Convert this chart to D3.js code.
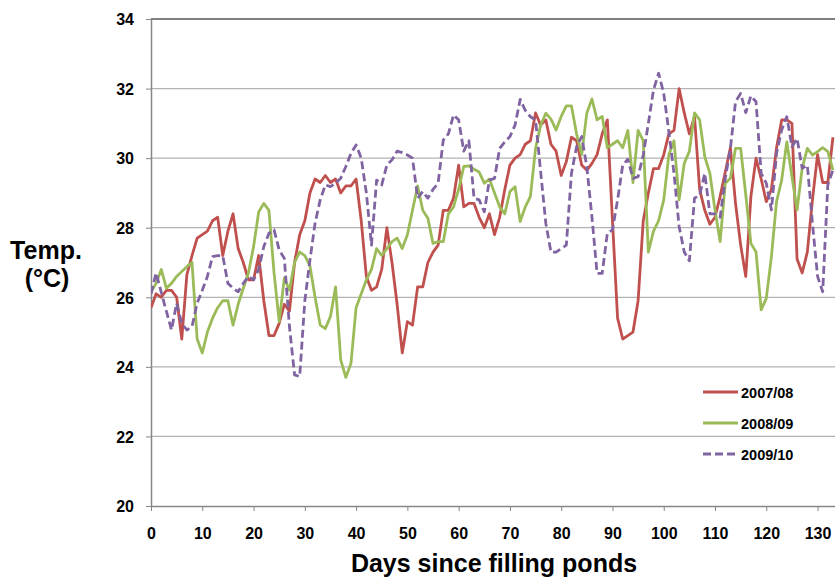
<!DOCTYPE html>
<html>
<head>
<meta charset="utf-8">
<script src="https://cdnjs.cloudflare.com/ajax/libs/d3/7.8.5/d3.min.js"></script>
<style>
  body { margin: 0; background: #fff; }
  text { font-family: "Liberation Sans", Arial, sans-serif; font-weight: bold; }
</style>
</head>
<body>
<div id="chart-container"></div>
<script>
// daily pond temperatures, day 0..133
var days = d3.range(0, 134);

var season0708 = [25.7,26.1,26.0,26.2,26.2,26.0,24.8,26.65,27.2,27.7,
  27.8,27.9,28.2,28.3,27.2,27.9,28.4,27.4,27.0,26.5,
  26.5,27.2,25.9,24.9,24.9,25.25,25.8,25.6,27.0,27.8,
  28.2,29.0,29.4,29.3,29.5,29.3,29.4,29.0,29.2,29.2,
  29.4,28.2,26.6,26.2,26.3,26.8,28.0,27.0,25.8,24.4,
  25.3,25.2,26.3,26.3,27.0,27.3,27.5,28.5,28.5,28.85,
  29.8,28.6,28.7,28.7,28.3,28.0,28.4,27.8,28.3,29.1,
  29.8,30.0,30.1,30.4,30.5,31.3,30.95,31.1,30.4,30.2,
  29.5,29.9,30.6,30.5,29.8,29.65,29.85,30.1,30.7,31.1,
  28.2,25.4,24.8,24.9,25.0,25.9,28.2,29.0,29.7,29.7,
  30.1,30.7,30.8,32.0,31.3,30.7,31.2,29.1,28.5,28.1,
  28.3,28.9,29.6,30.3,28.7,27.5,26.6,28.9,30.0,29.4,
  28.75,29.1,30.3,31.1,31.1,31.0,27.1,26.7,27.3,28.8,
  30.1,29.3,29.3,30.6];

var season0809 = [26.15,26.4,26.8,26.26,26.4,26.6,26.74,26.88,27.0,24.8,
  24.4,25.0,25.4,25.7,25.9,25.9,25.2,25.8,26.26,26.7,
  27.45,28.45,28.7,28.5,26.7,25.3,26.55,26.2,27.0,27.3,
  27.2,26.9,26.0,25.2,25.1,25.45,26.3,24.2,23.7,24.1,
  25.7,26.1,26.5,26.8,27.4,27.2,27.4,27.6,27.7,27.4,
  27.8,28.5,29.2,28.5,28.27,27.55,27.6,27.6,28.4,28.6,
  29.1,29.76,29.78,29.68,29.6,29.28,29.4,29.0,28.6,28.4,
  29.04,29.18,28.18,28.6,28.9,30.28,30.95,31.29,31.12,30.81,
  31.2,31.5,31.5,30.7,30.1,31.3,31.7,31.1,31.2,30.3,
  30.4,30.5,30.3,30.8,29.3,30.8,30.5,27.3,27.9,28.2,
  28.8,30.1,30.5,28.8,29.85,30.2,31.3,31.1,30.04,29.56,
  28.5,27.6,29.28,29.42,30.28,30.28,28.94,27.55,27.3,25.64,
  25.97,27.17,28.75,29.37,30.47,29.47,28.51,29.71,30.28,30.09,
  30.19,30.3,30.19,29.66];

var season0910 = [26.1,26.7,26.14,25.6,25.06,25.83,25.25,25.06,25.16,25.83,
  26.2,26.6,27.17,27.2,27.19,26.4,26.26,26.16,26.4,26.6,
  26.5,26.8,27.46,27.84,27.94,27.36,27.12,25.16,23.77,23.72,
  25.9,27.07,28.13,28.8,29.23,29.18,29.28,29.42,29.76,30.14,
  30.38,30.0,29.0,27.5,29.37,29.23,29.8,29.95,30.2,30.16,
  30.09,30.0,28.85,29.04,28.85,29.1,29.28,30.52,30.7,31.24,
  31.1,30.2,30.5,28.85,28.8,28.46,29.37,29.42,30.28,30.47,
  30.62,30.95,31.69,31.37,31.19,31.1,29.6,28.13,27.3,27.3,
  27.4,27.5,29.56,30.33,30.62,29.75,28.3,26.69,26.69,27.84,
  27.94,28.8,29.8,29.97,29.42,29.47,30.09,31.0,31.96,32.44,
  31.86,30.76,29.56,28.03,27.3,27.05,28.85,28.94,29.56,28.4,
  28.4,28.3,29.42,30.28,31.62,31.86,31.31,31.79,31.62,29.56,
  29.28,28.51,30.14,30.81,31.19,30.33,30.57,29.71,29.8,28.13,
  26.6,26.16,29.23,29.66];

var seriesNames = ["2007/08", "2008/09", "2009/10"];
var seriesColors = ["#c0504d", "#9bbb59", "#8064a2"];
var seriesDash = [null, null, "8,4"];
var xTicks = d3.range(0, 131, 10);
var yTicks = d3.range(20, 35, 2);

var svgWidth = 835;
var svgHeight = 579;
var plotLeft = 151, plotRight = 835, plotTop = 19, plotBottom = 506;

var svg = d3.select('#chart-container')
    .append('svg')
    .attr('width', svgWidth)
    .attr('height', svgHeight);

var x = d3.scaleLinear().domain([0, 133.4]).range([plotLeft, plotRight]);
var y = d3.scaleLinear().domain([20, 34]).range([plotBottom, plotTop]);

// gridlines
svg.append('g')
    .selectAll('line')
    .data(yTicks.filter(function(d) { return d > 20; }))
    .enter().append('line')
    .attr('x1', plotLeft).attr('x2', plotRight)
    .attr('y1', function(d) { return y(d); })
    .attr('y2', function(d) { return y(d); })
    .attr('stroke', function(d) { return d === 34 ? '#000' : '#b3b3b3'; })
    .attr('stroke-width', 1.2);

// y axis
var yAxis = svg.append('g')
    .attr('transform', 'translate(' + plotLeft + ',0)')
    .call(d3.axisLeft(y).tickValues(yTicks).tickSize(5).tickSizeOuter(0).tickPadding(4));
yAxis.select('.domain').attr('stroke', '#868686').attr('stroke-width', 1.5);
yAxis.selectAll('line').attr('stroke', '#868686');
yAxis.selectAll('text')
    .style('font-size', '16px')
    .style('fill', '#000')
    .attr('x', -17)
    .attr('dy', '0.36em');

// x axis
var xAxis = svg.append('g')
    .attr('transform', 'translate(0,' + plotBottom + ')')
    .call(d3.axisBottom(x).tickValues(xTicks).tickSize(5).tickSizeOuter(0).tickPadding(17));
xAxis.select('.domain').attr('stroke', '#868686').attr('stroke-width', 1.5);
xAxis.selectAll('line').attr('stroke', '#868686');
xAxis.selectAll('text')
    .style('font-size', '16px')
    .style('fill', '#000');

// axis titles
svg.append('text')
    .attr('x', 494)
    .attr('y', 572)
    .style('text-anchor', 'middle')
    .style('font-size', '25px')
    .text('Days since filling ponds');

svg.append('text')
    .attr('x', 46)
    .attr('y', 259)
    .style('text-anchor', 'middle')
    .style('font-size', '25px')
    .text('Temp.');

svg.append('text')
    .attr('x', 47)
    .attr('y', 287)
    .style('text-anchor', 'middle')
    .style('font-size', '25px')
    .text('(°C)');

// lines
svg.append('clipPath').attr('id', 'plot-clip')
    .append('rect')
    .attr('x', plotLeft).attr('y', plotTop)
    .attr('width', plotRight - plotLeft).attr('height', plotBottom - plotTop);

var line = d3.line()
    .x(function(d, i) { return x(days[i]); })
    .y(function(d) { return y(d); });

var allSeries = [season0708, season0809, season0910];

svg.append('g')
    .attr('clip-path', 'url(#plot-clip)')
    .selectAll('.series')
    .data(allSeries)
    .enter().append('path')
    .attr('class', 'series')
    .attr('fill', 'none')
    .attr('stroke', function(d, i) { return seriesColors[i]; })
    .attr('stroke-width', 2.8)
    .attr('stroke-linejoin', 'round')
    .attr('stroke-dasharray', function(d, i) { return seriesDash[i]; })
    .attr('d', line);

// legend
var legend = svg.append('g')
    .selectAll('g')
    .data(seriesNames)
    .enter().append('g')
    .attr('transform', function(d, i) { return 'translate(703,' + (392 + i * 31) + ')'; });

legend.append('line')
    .attr('x1', 0).attr('x2', 35)
    .attr('y1', 0).attr('y2', 0)
    .attr('stroke', function(d, i) { return seriesColors[i]; })
    .attr('stroke-width', 2.8)
    .attr('stroke-dasharray', function(d, i) { return seriesDash[i]; });

legend.append('text')
    .attr('x', 38)
    .attr('y', 5.5)
    .style('font-size', '14.5px')
    .text(function(d) { return d; });
</script>
</body>
</html>
